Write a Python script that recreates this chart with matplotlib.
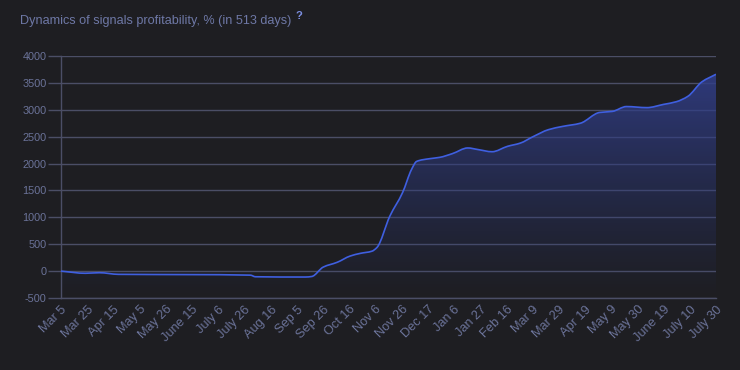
import numpy as np
import matplotlib
matplotlib.use("Agg")
import matplotlib.pyplot as plt
from matplotlib.colors import LinearSegmentedColormap
from matplotlib.path import Path
from matplotlib.patches import PathPatch

# ---- data ----
tick_labels = ["Mar 5", "Mar 25", "Apr 15", "May 5", "May 26", "June 15", "July 6",
               "July 26", "Aug 16", "Sep 5", "Sep 26", "Oct 16", "Nov 6", "Nov 26",
               "Dec 17", "Jan 6", "Jan 27", "Feb 16", "Mar 9", "Mar 29", "Apr 19",
               "May 9", "May 30", "June 19", "July 10", "July 30"]
total_days = 512
days = [0, 19, 30, 45, 100, 148, 152, 191, 196, 205, 216, 226, 234, 243, 247,
        257, 267, 274, 278, 288, 296, 306, 318, 326, 337, 349, 359, 369, 381,
        392, 406, 421, 431, 442, 458, 471, 481, 490, 501, 512]
profit = [0, -40, -30, -60, -65, -75, -105, -110, -100, 75, 165, 280, 330, 370, 440,
          1020, 1460, 1890, 2040, 2090, 2115, 2185, 2290, 2260, 2220, 2320, 2380,
          2500, 2630, 2690, 2750, 2950, 2970, 3060, 3040, 3100, 3150, 3250, 3520, 3660]
y_ticks = [-500, 0, 500, 1000, 1500, 2000, 2500, 3000, 3500, 4000]

bg = "#1e1e22"
text_c = "#6b7399"
grid_c = "#4b4e66"
line_c = "#3f5fe0"

fig = plt.figure(figsize=(7.4, 3.7), dpi=100, facecolor=bg)
ax = fig.add_axes([61/740, 1-298/370, 655/740, 242/370])
ax.set_facecolor(bg)

x = np.array(days, dtype=float)
y = np.array(profit, dtype=float)
ax.set_xlim(0, total_days)
ax.set_ylim(-500, 4000)

for yt in y_ticks:
    ax.axhline(yt, color=grid_c, lw=1.0, zorder=1)

# smooth (monotone cubic Bezier) path through the data points
n = len(x)
dx = np.diff(x)
sl = np.diff(y) / dx
m = np.zeros(n)
m[0], m[-1] = sl[0], sl[-1]
for i in range(1, n - 1):
    if sl[i - 1] * sl[i] <= 0:
        m[i] = 0.0
    else:
        w1 = 2 * dx[i] + dx[i - 1]
        w2 = dx[i] + 2 * dx[i - 1]
        m[i] = (w1 + w2) / (w1 / sl[i - 1] + w2 / sl[i])
verts = [(x[0], y[0])]
codes = [Path.MOVETO]
for i in range(n - 1):
    h = dx[i] / 3
    verts += [(x[i] + h, y[i] + m[i] * h), (x[i + 1] - h, y[i + 1] - m[i + 1] * h),
              (x[i + 1], y[i + 1])]
    codes += [Path.CURVE4] * 3
line_path = Path(verts, codes)
fill_path = Path(verts + [(x[-1], -500), (x[0], -500), (x[0], y[0])],
                 codes + [Path.LINETO, Path.LINETO, Path.CLOSEPOLY])

# gradient fill under curve
cmap = LinearSegmentedColormap.from_list("g", [(0.15, 0.2, 0.45, 0.0), (0.2, 0.25, 0.55, 0.85)])
grad = np.linspace(0, 1, 256).reshape(-1, 1)
im = ax.imshow(grad, extent=[0, total_days, -500, 3700], origin="lower", aspect="auto",
               cmap=cmap, zorder=2)
im.set_clip_path(fill_path, transform=ax.transData)

ax.add_patch(PathPatch(line_path, facecolor="none", edgecolor=line_c, lw=1.2, zorder=3))

for s in ["top", "right"]:
    ax.spines[s].set_visible(False)
for s in ["left", "bottom"]:
    ax.spines[s].set_color(grid_c)
    ax.spines[s].set_linewidth(1.0)

ax.set_yticks(y_ticks)
ax.set_yticklabels([str(v) for v in y_ticks], fontsize=7.8, color=text_c,
                   family="Liberation Sans")
ax.tick_params(axis="y", length=9.5, color=grid_c, pad=1, width=1.0)

xt = np.linspace(0, total_days, len(tick_labels))
ax.set_xticks(xt)
ax.set_xticklabels(tick_labels, rotation=45, ha="right", rotation_mode="anchor",
                   fontsize=9.2, color=text_c, family="Liberation Sans")
ax.tick_params(axis="x", length=0, pad=4)

fig.text(20/740, 1-21/370, "Dynamics of signals profitability, % (in 513 days)",
         fontsize=9.1, color="#6e78a6", family="Liberation Sans", va="center")
fig.text(296/740, 1-16/370, "?", fontsize=8, color="#7c8ee0", family="Liberation Sans",
         va="center", fontweight="bold")

fig.savefig("out.png", dpi=100, facecolor=bg)
